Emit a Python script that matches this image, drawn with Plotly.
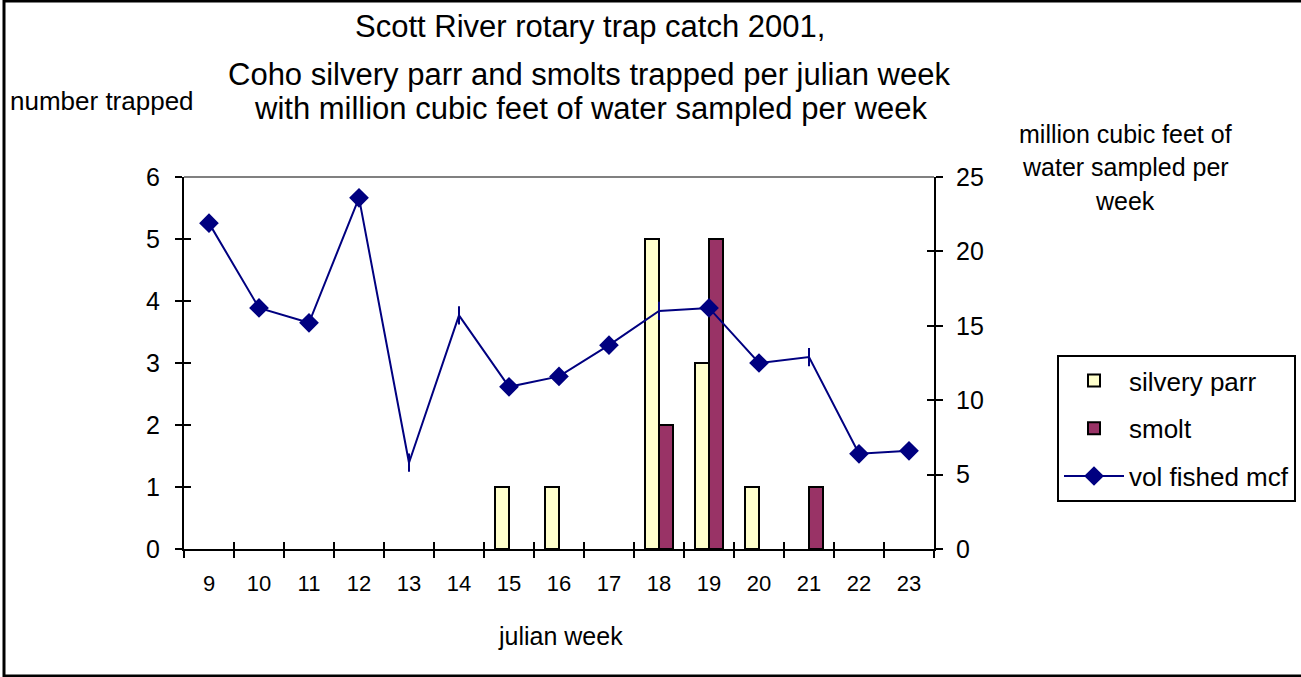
import plotly.graph_objects as go

weeks = ["9", "10", "11", "12", "13", "14", "15", "16", "17", "18", "19", "20", "21", "22", "23"]
silvery_parr = [0, 0, 0, 0, 0, 0, 1, 1, 0, 5, 3, 1, 0, 0, 0]
smolt = [0, 0, 0, 0, 0, 0, 0, 0, 0, 2, 5, 0, 1, 0, 0]
vol_fished = [21.9, 16.2, 15.2, 23.6, 5.8, 15.7, 10.9, 11.6, 13.7, 16.0, 16.2, 12.5, 12.9, 6.4, 6.6]
vol_symbols = ["diamond", "diamond", "diamond", "diamond", "line-ns", "line-ns", "diamond", "diamond",
               "diamond", "line-ns", "diamond", "diamond", "line-ns", "diamond", "diamond"]

W, H = 1301, 677
L, R, T, B = 184, 934, 177, 549
pw, ph = R - L, B - T

def px(x):
    return (x - L) / pw

def py(y):
    return (B - y) / ph

FONT = "Liberation Sans, Arial, sans-serif"

def nz(vals):
    return [v if v else None for v in vals]

fig = go.Figure()
fig.add_trace(go.Bar(x=weeks, y=nz(silvery_parr), name="silvery parr", legendgroup="a",
                     marker=dict(color="#FFFFCC", line=dict(color="black", width=2))))
fig.add_trace(go.Bar(x=weeks, y=nz(smolt), name="smolt", legendgroup="b",
                     marker=dict(color="#993366", line=dict(color="black", width=2))))
fig.add_trace(go.Scatter(x=weeks, y=vol_fished, name="vol fished mcf", yaxis="y2", legendgroup="c",
                         mode="lines+markers",
                         line=dict(color="#000080", width=2),
                         marker=dict(symbol=vol_symbols, size=13, color="#000080",
                                     line=dict(color="#000080", width=2))))
# invisible carriers so the inner-tick overlay axes get drawn (crossing tick marks)
fig.add_trace(go.Scatter(x=weeks, y=silvery_parr, xaxis="x2", yaxis="y3", mode="none",
                         showlegend=False, hoverinfo="skip"))
fig.add_trace(go.Scatter(x=weeks, y=vol_fished, xaxis="x2", yaxis="y4", mode="none",
                         showlegend=False, hoverinfo="skip"))

annotations = [
    dict(text="Scott River rotary trap catch 2001,", x=px(590), y=py(27), size=31),
    dict(text="Coho silvery parr and smolts trapped per julian week", x=px(589), y=py(74), size=31),
    dict(text="with million cubic feet of water sampled per week", x=px(590), y=py(109), size=31),
    dict(text="number trapped", x=px(102), y=py(101), size=26),
    dict(text="million cubic feet of", x=px(1125), y=py(134), size=25),
    dict(text="water sampled per", x=px(1125), y=py(167), size=25),
    dict(text="week", x=px(1125), y=py(201), size=25),
    dict(text="julian week", x=px(560), y=py(636), size=25),
]
ann = [dict(text=a["text"], x=a["x"], y=a["y"], xref="paper", yref="paper", showarrow=False,
            xanchor="center", yanchor="middle", font=dict(size=a["size"], color="black", family=FONT))
       for a in annotations]

shapes = [
    dict(type="line", xref="paper", yref="paper", x0=0, x1=1, y0=1, y1=1,
         line=dict(color="#808080", width=2)),
    dict(type="rect", xref="paper", yref="paper", x0=px(4), x1=px(1310), y0=py(676), y1=py(1),
         line=dict(color="black", width=3)),
]

tick_common = dict(ticklen=7, tickwidth=2, tickcolor="black", showgrid=False, zeroline=False)

fig.update_layout(
    width=W, height=H,
    margin=dict(l=L, r=W - R, t=T, b=H - B, autoexpand=False),
    paper_bgcolor="white", plot_bgcolor="white",
    font=dict(family=FONT, color="black"),
    barmode="group", bargap=0.44, bargroupgap=0,
    showlegend=True,
    legend=dict(x=px(1057), y=py(355), xanchor="left", yanchor="top",
                bordercolor="black", borderwidth=2, bgcolor="white",
                font=dict(size=26, family=FONT), tracegroupgap=11,
                traceorder="grouped", itemwidth=60),
    xaxis=dict(type="category", range=[-0.5, 14.5], tickson="boundaries", ticks="outside",
               showline=True, linecolor="black", linewidth=2,
               tickfont=dict(size=22), ticklabelstandoff=14, **tick_common),
    xaxis2=dict(type="category", overlaying="x", range=[-0.5, 14.5], tickson="boundaries",
                ticks="inside", categoryorder="array", categoryarray=weeks,
                showticklabels=False, showline=False, side="bottom", **tick_common),
    yaxis=dict(range=[0, 6], dtick=1, ticks="outside",
               showline=True, linecolor="black", linewidth=2,
               tickfont=dict(size=25), ticklabelstandoff=10, **tick_common),
    yaxis3=dict(range=[0, 6], dtick=1, ticks="inside", overlaying="y", side="left",
                showticklabels=False, showline=False, **tick_common),
    yaxis2=dict(range=[0, 25], dtick=5, overlaying="y", side="right", ticks="outside",
                showline=True, linecolor="black", linewidth=2,
                tickfont=dict(size=25), ticklabelstandoff=8, **tick_common),
    yaxis4=dict(range=[0, 25], dtick=5, ticks="inside", overlaying="y", side="right",
                showticklabels=False, showline=False, **tick_common),
    annotations=ann,
    shapes=shapes,
)

fig.write_html("out.html", config={"displayModeBar": False},
               post_script="document.body.style.margin='0px';document.body.style.overflow='hidden';")
